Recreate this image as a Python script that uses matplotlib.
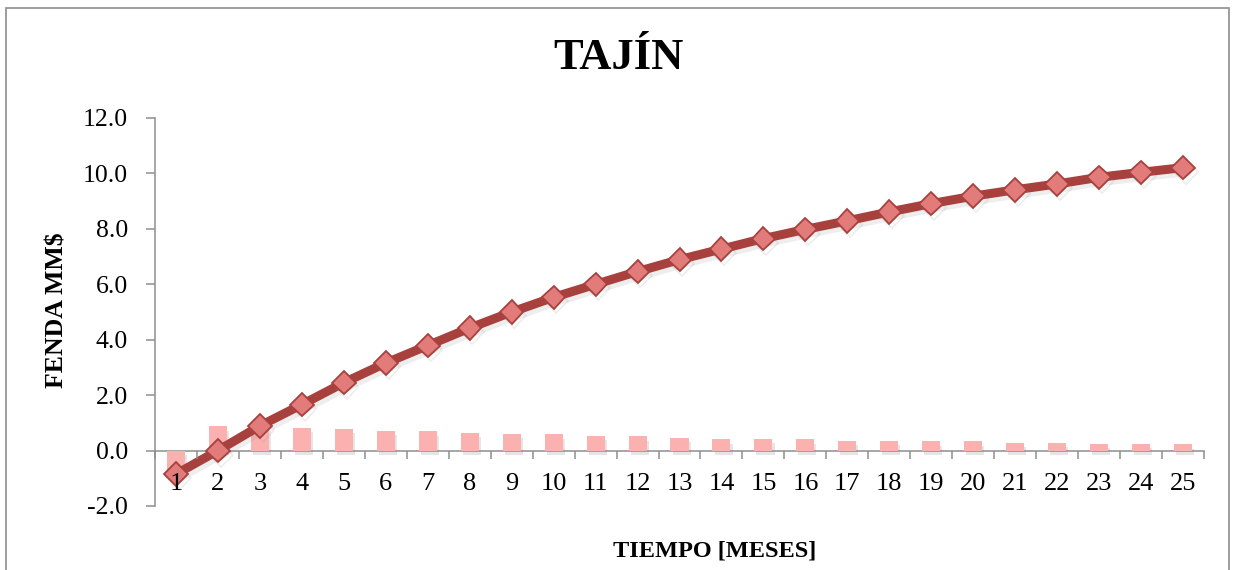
import numpy as np
import matplotlib.pyplot as plt
import matplotlib.patheffects as pe
from matplotlib.patches import Rectangle
from matplotlib.ticker import FixedLocator, FormatStrFormatter

plt.rcParams['font.family'] = ['Liberation Serif', 'DejaVu Serif']
plt.rcParams['axes.unicode_minus'] = False

meses = list(range(1, 26))
# fenda mensual (barras) y acumulada (linea), MM$
fenda_mes = [-0.83, 0.87, 0.87, 0.83, 0.79, 0.72, 0.69, 0.65, 0.61, 0.58,
             0.54, 0.51, 0.47, 0.40, 0.43, 0.40, 0.36, 0.36, 0.33, 0.33,
             0.29, 0.29, 0.25, 0.25, 0.22]
fenda_acum = [-0.85, 0.0, 0.89, 1.66, 2.45, 3.16, 3.79, 4.42, 5.00, 5.53,
              6.00, 6.46, 6.89, 7.27, 7.65, 7.98, 8.29, 8.61, 8.91, 9.18,
              9.41, 9.62, 9.86, 10.04, 10.21]
y_ticks = [-2, 0, 2, 4, 6, 8, 10, 12]

gris = '#8e8e8e'

fig = plt.figure(figsize=(12.33, 5.7), dpi=100)
ax = fig.add_axes([155/1233, 64/570, 1049/1233, 388/570])

# marco exterior del grafico
fig.patches.append(Rectangle((6/1233, -0.1), 1223/1233, 1.1 - 8/570,
                             transform=fig.transFigure, fill=False,
                             edgecolor=gris, linewidth=1.2))

ax.bar(meses, fenda_mes, width=0.43, color='#fcb1b1', zorder=1.5,
       path_effects=[pe.SimplePatchShadow(offset=(1.5, -3), shadow_rgbFace='#808080', alpha=0.2),
                     pe.Normal()])

ax.plot(meses, fenda_acum, color='#a8403d', linewidth=6.5, marker='D',
        markersize=12, markerfacecolor='#e27c7a', markeredgecolor='#a8403d',
        markeredgewidth=1.3, zorder=2,
        path_effects=[pe.SimpleLineShadow(offset=(2, -3), shadow_color='#909090', alpha=0.15),
                      pe.Normal()])

ax.set_xlim(0.5, 25.5)
ax.set_ylim(-2, 12)

for s in ['top', 'right']:
    ax.spines[s].set_visible(False)
ax.spines['bottom'].set_position(('data', 0))
for s in ['left', 'bottom']:
    ax.spines[s].set_color(gris)
    ax.spines[s].set_linewidth(1.1)
    ax.spines[s].set_zorder(1)

ax.set_yticks(y_ticks)
ax.yaxis.set_major_formatter(FormatStrFormatter('%.1f'))
ax.tick_params(axis='y', direction='out', length=6.5, width=1.1, color=gris,
               pad=13, labelsize=18.5)

ax.set_xticks(meses)
ax.set_xticklabels([str(m) for m in meses])
ax.xaxis.set_minor_locator(FixedLocator(np.arange(0.5, 26, 1)))
ax.tick_params(axis='x', which='major', length=0, pad=16, labelsize=19)
ax.tick_params(axis='x', which='minor', direction='out', length=6, width=1.1, color=gris)
ax.xaxis.set_zorder(5)

fig.text(618/1233, 1 - 58/570, 'TAJÍN', fontsize=32, fontweight='bold',
         ha='center', va='center')
fig.text(715/1233, 1 - 551/570, 'TIEMPO [MESES]', fontsize=17.5, fontweight='bold',
         ha='center', va='center')
fig.text(57/1233, 1 - 310/570, 'FENDA MM$', fontsize=18.5, fontweight='bold',
         rotation=90, ha='center', va='center')

fig.savefig('out.png', dpi=100)
